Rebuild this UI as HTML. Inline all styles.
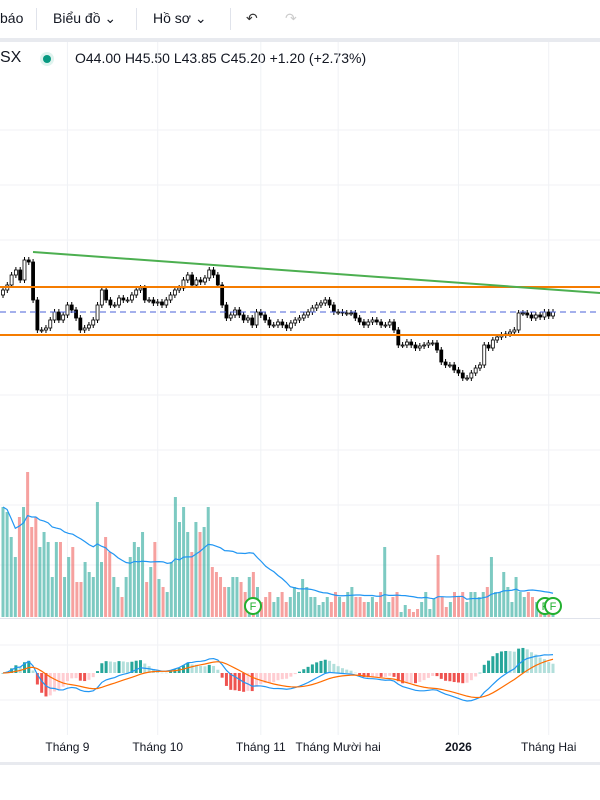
<!DOCTYPE html>
<html><head><meta charset="utf-8">
<style>
body{margin:0;width:600px;height:800px;overflow:hidden;background:#fff;font-family:"Liberation Sans","Noto Sans CJK SC",sans-serif;}
.tb{position:absolute;top:0;left:0;width:600px;height:38px;font-size:14px;color:#131722;}
.tb span{position:absolute;top:10px;}
.sep{position:absolute;top:8px;width:1px;height:22px;background:#e0e3eb;}
.legend{position:absolute;top:50px;font-size:14px;color:#131722;}
</style></head><body>
<div class="tb">
<span style="left:0">báo</span>
<div class="sep" style="left:36px"></div>
<span style="left:53px">Biểu đồ ⌄</span>
<div class="sep" style="left:136px"></div>
<span style="left:153px">Hồ sơ ⌄</span>
<div class="sep" style="left:230px"></div>
<span style="left:246px;color:#333">↶</span>
<span style="left:285px;color:#ccc">↷</span>
</div>
<div style="position:absolute;top:38px;left:0;width:600px;height:4px;background:#e8eaef"></div>
<div class="legend" style="left:0;font-size:16px;top:49px">SX</div>
<div style="position:absolute;left:43px;top:55px;width:8px;height:8px;border-radius:50%;background:#089981;box-shadow:0 0 0 3px #dff3ee"></div>
<div class="legend" style="left:75px">O44.00 H45.50 L43.85 C45.20 +1.20 (+2.73%)</div>
<svg id="c" width="600" height="800" style="position:absolute;top:0;left:0"></svg>
<script>
const closes=[47.4,47.9,48.9,49.4,48.4,50.4,50.2,46.4,
43.4,43.4,43.6,44.4,45.2,44.4,44.9,45.9,45.4,44.6,
43.4,43.6,43.9,44.4,45.9,47.4,46.4,45.9,45.9,46.6,
46.4,46.4,46.9,47.4,47.6,46.4,46.4,46.1,46.2,45.9,
46.4,46.9,47.4,47.6,48.4,48.9,47.9,48.4,48.2,48.6,
49.4,48.9,47.9,45.9,44.6,44.9,45.4,44.9,44.4,44.6,
43.9,45.2,44.9,44.4,43.9,43.9,44.2,43.9,43.6,44.1,
44.4,44.6,44.9,45.2,45.6,45.9,46.1,46.4,45.9,45.2,
45.2,45.1,45.1,45.1,44.6,44.2,43.9,44.2,44.4,44.2,
43.9,43.9,44.2,43.4,41.9,41.9,42.2,41.9,41.6,41.8,
41.9,42.1,42.1,41.4,40.2,39.9,39.9,39.4,39.1,38.6,
38.6,39.1,39.6,39.9,41.9,41.6,42.4,42.7,42.9,43.0,
43.2,43.4,45.1,45.1,44.9,44.6,44.9,44.7,45.2,44.8,45.2];
const volumes=[110,105,80,60,100,110,145,90,
100,70,85,75,40,75,75,40,60,70,
35,35,55,45,40,115,55,80,65,40,
30,20,40,60,75,70,85,35,50,75,
38,30,25,55,120,95,110,85,65,95,
85,90,110,50,45,40,30,30,40,40,
35,25,40,45,30,15,20,25,15,20,
25,15,20,30,25,38,30,20,20,12,
15,20,15,25,20,15,25,30,20,20,
15,15,20,15,25,70,15,20,25,5,
12,8,5,8,15,25,8,18,62,20,
10,15,25,20,25,15,25,25,20,25,
30,60,25,25,45,30,15,40,25,20,
25,20,15,10,10,5,5];
const monthLabels=["Tháng 9","Tháng 10","Tháng 11","Tháng Mười hai","2026","Tháng Hai"];
const monthIdx=[15,36,60,78,106,127];

const svg=document.getElementById('c');const NS='http://www.w3.org/2000/svg';
function mk(t,a,p){const e=document.createElementNS(NS,t);for(const k in a)e.setAttribute(k,a[k]);(p||svg).appendChild(e);return e;}
const N=closes.length;
const xS=i=>3+i*(550/(N-1));
const yP=p=>312-(p-45.2)*10;
const volBase=617, yV=v=>volBase-v;
for(let j=0;j<monthIdx.length;j++){const g=mk('line',{x1:xS(monthIdx[j]),x2:xS(monthIdx[j]),y1:42,y2:735,stroke:'#f0f2f5'});}
[130,185,240,395,450,505,565,645,700].forEach(y=>{const g=mk('line',{x1:0,x2:600,y1:y,y2:y,stroke:'#f0f2f5'});});
let s=mk('line',{x1:0,x2:600,y1:618.5,y2:618.5,stroke:'#e0e3eb'});
s=mk('rect',{x:0,y:762,width:600,height:3,fill:'#e8eaef'});
const vx=i=>3+i*(550/(volumes.length-1));
volumes.forEach((v,i)=>{const ci=Math.round(i*(N-1)/(volumes.length-1));const up=ci===0?true:closes[ci]>=closes[ci-1];
const r=mk('rect',{x:vx(i)-1.5,y:yV(v),width:3,height:v,fill:up?'rgba(38,166,154,0.6)':'rgba(239,83,80,0.55)'});});
let pts=[];for(let i=0;i<volumes.length;i++){const a=volumes.slice(Math.max(0,i-19),i+1);const m=a.reduce((x,y)=>x+y,0)/a.length;pts.push(vx(i)+','+yV(m));}
s=mk('polyline',{points:pts.join(' '),fill:'none',stroke:'#2196f3','stroke-width':1.2});
[[253,606],[545,606],[553,606]].forEach(([x,y])=>{const g=mk('g',{});mk('circle',{cx:x,cy:y,r:8,fill:'#fff',stroke:'#22b02f','stroke-width':2},g);const t=mk('text',{x:x,y:y+4,'text-anchor':'middle','font-size':11,fill:'#22b02f','font-family':'Liberation Sans'},g);t.textContent='F';});
for(let i=0;i<N;i++){const c=closes[i],o=i?closes[i-1]:c-0.5;const hi=Math.max(o,c)+0.3,lo=Math.min(o,c)-0.3;const up=c>=o;
const g=mk('g',{});
mk('line',{x1:xS(i),x2:xS(i),y1:yP(hi),y2:yP(lo),stroke:'#000','stroke-width':1},g);
const top=yP(Math.max(o,c)),h=Math.max(1,Math.abs(yP(o)-yP(c)));
mk('rect',{x:xS(i)-1.5,y:top,width:3,height:h,fill:up?'#fff':'#000',stroke:'#000','stroke-width':0.8},g);}
s=mk('line',{x1:0,x2:600,y1:287,y2:287,stroke:'#f57c00','stroke-width':2});
s=mk('line',{x1:0,x2:600,y1:335,y2:335,stroke:'#f57c00','stroke-width':2});
s=mk('line',{x1:0,x2:600,y1:312,y2:312,stroke:'#4a62d8','stroke-width':1,'stroke-dasharray':'6,4'});
s=mk('line',{x1:33,x2:600,y1:252,y2:293,stroke:'#4caf50','stroke-width':2});
function ema(a,n){const k=2/(n+1);let r=[a[0]];for(let i=1;i<a.length;i++)r.push(a[i]*k+r[i-1]*(1-k));return r;}
const e12=ema(closes,12),e26=ema(closes,26);const macd=e12.map((v,i)=>v-e26[i]);const sig=ema(macd,9);
const mx=Math.max(...macd.map(Math.abs),...sig.map(Math.abs));const z=673;const yM=v=>z-v*(28/mx);
macd.forEach((m,i)=>{const h=m-sig[i],ph=i?macd[i-1]-sig[i-1]:0;let col=h>=0?(h>=ph?'#26a69a':'#b2dfdb'):(h<ph?'#ef5350':'#ffcdd2');
const y1=yM(h*2);const r=mk('rect',{x:xS(i)-1.5,y:Math.min(z,y1),width:3,height:Math.max(0.5,Math.abs(y1-z)),fill:col});});
s=mk('polyline',{points:macd.map((v,i)=>xS(i)+','+yM(v)).join(' '),fill:'none',stroke:'#2196f3','stroke-width':1.2});
s=mk('polyline',{points:sig.map((v,i)=>xS(i)+','+yM(v)).join(' '),fill:'none',stroke:'#ff6d00','stroke-width':1.2});
monthLabels.forEach((l,j)=>{const t=mk('text',{x:xS(monthIdx[j]),y:751,'text-anchor':'middle','font-size':12,fill:'#131722','font-weight':l==='2026'?'bold':'normal','font-family':'Liberation Sans'});t.textContent=l;});
</script>
</body></html>
